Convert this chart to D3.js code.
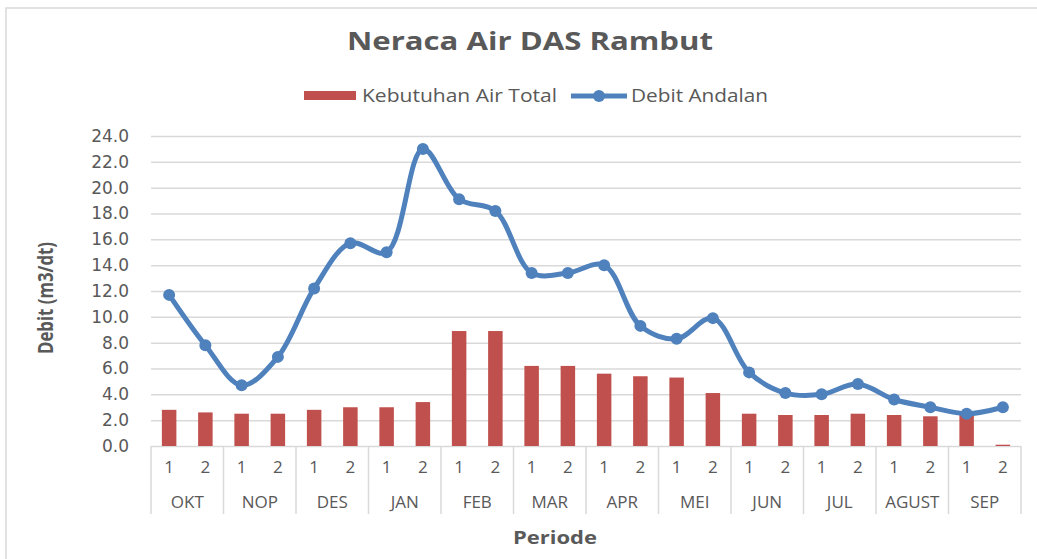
<!DOCTYPE html>
<html>
<head>
<meta charset="utf-8">
<script src="https://cdn.jsdelivr.net/npm/d3@7"></script>
<style>
  body { margin: 0; background: #fff; }
  text { font-family: "Open Sans", sans-serif; fill: #595959; }
</style>
</head>
<body>
<svg id="chart"></svg>
<script>
// data
const months = ["OKT", "NOP", "DES", "JAN", "FEB", "MAR", "APR", "MEI", "JUN", "JUL", "AGUST", "SEP"];
const periods = ["1", "2"];
const kebutuhanAir = [2.8, 2.6, 2.5, 2.5, 2.8, 3.0, 3.0, 3.4, 8.9, 8.9, 6.2, 6.2,
                      5.6, 5.4, 5.3, 4.1, 2.5, 2.4, 2.4, 2.5, 2.4, 2.3, 2.4, 0.1];
const debitAndalan = [11.7, 7.8, 4.7, 6.9, 12.2, 15.7, 15.0, 23.0, 19.1, 18.2, 13.4, 13.4,
                      14.0, 9.3, 8.3, 9.9, 5.7, 4.1, 4.0, 4.8, 3.6, 3.0, 2.5, 3.0];
const yTicks = [0, 2, 4, 6, 8, 10, 12, 14, 16, 18, 20, 22, 24];

const width = 1037, height = 559;
const plot = { left: 151, right: 1021, top: 136, bottom: 446 };

const keys = months.flatMap(m => periods.map(p => m + "-" + p));
const data = keys.map((k, i) => ({
  key: k, month: k.split("-")[0], period: k.split("-")[1],
  kebutuhan: kebutuhanAir[i], debit: debitAndalan[i]
}));

const svg = d3.select("#chart").attr("width", width).attr("height", height);

// chart border
svg.append("rect")
  .attr("x", 6).attr("y", 8).attr("width", width + 10).attr("height", height + 10)
  .attr("fill", "none").attr("stroke", "#d9d9d9").attr("stroke-width", 1.5);

const x = d3.scaleBand().domain(keys).range([plot.left, plot.right])
  .paddingInner(0.6).paddingOuter(0.3);
const xMonth = d3.scaleBand().domain(months).range([plot.left, plot.right]);
const y = d3.scaleLinear().domain([0, 24]).range([plot.bottom, plot.top]);

// gridlines + y labels
const yAxis = svg.append("g")
  .attr("transform", `translate(${plot.left},0)`)
  .call(d3.axisLeft(y).tickValues(yTicks).tickFormat(d3.format(".1f"))
    .tickSize(-(plot.right - plot.left)).tickPadding(22));
yAxis.select(".domain").remove();
yAxis.selectAll(".tick line").attr("stroke", "#d9d9d9").attr("stroke-width", 1.5);
yAxis.selectAll(".tick text").attr("font-size", 17).attr("fill", "#595959")
  .style("font-family", "DejaVu Sans, sans-serif");

// category axis: month separators
svg.append("g").selectAll("line")
  .data(months.concat(["_end"]))
  .join("line")
  .attr("x1", (d, i) => i < months.length ? xMonth(d) : plot.right)
  .attr("x2", (d, i) => i < months.length ? xMonth(d) : plot.right)
  .attr("y1", plot.bottom).attr("y2", plot.bottom + 68)
  .attr("stroke", "#d9d9d9").attr("stroke-width", 1.5);

svg.append("g").selectAll("text")
  .data(data)
  .join("text")
  .attr("x", d => x(d.key) + x.bandwidth() / 2)
  .attr("y", plot.bottom + 27)
  .attr("text-anchor", "middle")
  .attr("font-size", 17)
  .text(d => d.period);

svg.append("g").selectAll("text")
  .data(months)
  .join("text")
  .attr("x", d => xMonth(d) + xMonth.bandwidth() / 2)
  .attr("y", plot.bottom + 62)
  .attr("text-anchor", "middle")
  .attr("font-size", 17)
  .text(d => d);

// bars
svg.append("g").selectAll("rect")
  .data(data)
  .join("rect")
  .attr("x", d => x(d.key))
  .attr("y", d => y(d.kebutuhan))
  .attr("width", x.bandwidth())
  .attr("height", d => y(0) - y(d.kebutuhan))
  .attr("fill", "#c0504d");

// smoothed line
const line = d3.line()
  .x(d => x(d.key) + x.bandwidth() / 2)
  .y(d => y(d.debit))
  .curve(d3.curveCatmullRom.alpha(0.5));

svg.append("path")
  .datum(data)
  .attr("d", line)
  .attr("fill", "none")
  .attr("stroke", "#4f81bd")
  .attr("stroke-width", 5)
  .attr("stroke-linecap", "round");

svg.append("g").selectAll("circle")
  .data(data)
  .join("circle")
  .attr("cx", d => x(d.key) + x.bandwidth() / 2)
  .attr("cy", d => y(d.debit))
  .attr("r", 6)
  .attr("fill", "#4f81bd");

// title
svg.append("text")
  .attr("x", 530).attr("y", 50)
  .attr("text-anchor", "middle")
  .attr("font-size", 25).attr("font-weight", "bold")
  .attr("textLength", 366).attr("lengthAdjust", "spacingAndGlyphs")
  .text("Neraca Air DAS Rambut");

// legend
const legend = svg.append("g");
legend.append("rect").attr("x", 304).attr("y", 91).attr("width", 52).attr("height", 9)
  .attr("fill", "#c0504d");
legend.append("text").attr("x", 362).attr("y", 102).attr("font-size", 18)
  .attr("textLength", 195).attr("lengthAdjust", "spacingAndGlyphs")
  .text("Kebutuhan Air Total");
legend.append("line").attr("x1", 571).attr("x2", 627).attr("y1", 96).attr("y2", 96)
  .attr("stroke", "#4f81bd").attr("stroke-width", 5);
legend.append("circle").attr("cx", 599).attr("cy", 96).attr("r", 6).attr("fill", "#4f81bd");
legend.append("text").attr("x", 631).attr("y", 102).attr("font-size", 18)
  .attr("textLength", 137).attr("lengthAdjust", "spacingAndGlyphs")
  .text("Debit Andalan");

// axis titles
svg.append("text")
  .attr("transform", "translate(53,298) rotate(-90)")
  .attr("text-anchor", "middle")
  .attr("font-size", 21).attr("font-weight", "bold")
  .attr("textLength", 112).attr("lengthAdjust", "spacingAndGlyphs")
  .text("Debit (m3/dt)");

svg.append("text")
  .attr("x", 555).attr("y", 544)
  .attr("text-anchor", "middle")
  .attr("font-size", 18).attr("font-weight", "bold")
  .attr("textLength", 84).attr("lengthAdjust", "spacingAndGlyphs")
  .text("Periode");
</script>
</body>
</html>
